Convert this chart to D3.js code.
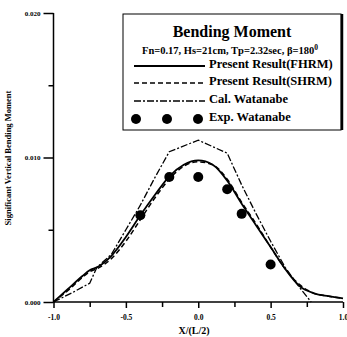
<!DOCTYPE html>
<html><head><meta charset="utf-8">
<script src="https://cdn.jsdelivr.net/npm/d3@7"></script>
<style>body{margin:0;background:#fff}svg{display:block}text{font-family:"Liberation Serif","Times New Roman",serif;font-weight:bold;fill:#000}</style>
</head><body>
<svg id="c" width="347" height="337"></svg>
<script>
const xTicksMajor = [-1.0, -0.5, 0.0, 0.5, 1.0];
const xTicksMinor = [-0.75, -0.25, 0.25, 0.75];
const yTicksMajor = [0.000, 0.010, 0.020];
const yTicksMinor = [0.005, 0.015];

const fhrmX = [-1.0,-0.9,-0.8,-0.75,-0.7,-0.6,-0.5,-0.4,-0.3,-0.2,-0.1,0.0,0.1,0.2,0.3,0.4,0.5,0.6,0.7,0.8,0.9,1.0];
const fhrmY = [0,0.0009,0.0018,0.0022,0.0024,0.0032,0.0045,0.0060,0.0074,0.0087,0.0095,0.0098,0.0095,0.0084,0.0068,0.0053,0.0038,0.0023,0.0011,0.0006,0.0004,0.00025];
const shrmX = [-1.0,-0.9,-0.8,-0.75,-0.7,-0.6,-0.5,-0.4,-0.3,-0.2,-0.1,0.0,0.1,0.2,0.3,0.4,0.5,0.6,0.7,0.8,0.9,1.0];
const shrmY = [0,0.0008,0.0017,0.0021,0.0023,0.0030,0.0042,0.0057,0.0072,0.0085,0.0094,0.0097,0.0095,0.0085,0.0069,0.0054,0.0038,0.0023,0.0012,0.0006,0.0004,0.00025];
const calX = [-1.0,-0.86,-0.75,-0.7,-0.6,-0.5,-0.4,-0.3,-0.2,0.0,0.2,0.3,0.4,0.5,0.6,0.7,0.78];
const calY = [0,0.0007,0.0013,0.0024,0.0033,0.0050,0.0067,0.0086,0.0104,0.0112,0.0103,0.0081,0.0061,0.0042,0.0024,0.0010,0.0];
const expX = [-0.4,-0.2,0.0,0.2,0.3,0.5];
const expY = [0.0060,0.00865,0.00865,0.0078,0.0061,0.0026];

const legendLabels = ["Present Result(FHRM)","Present Result(SHRM)","Cal. Watanabe","Exp. Watanabe"];

const svg = d3.select("#c");
const x = d3.scaleLinear().domain([-1,1]).range([53.5,343]);
const y = d3.scaleLinear().domain([0,0.02]).range([302,13]);

// axes
const fmtY = d => d3.format(".3f")(d);
const fmtX = d => d3.format(".1f")(d).replace("\u2212","-");
const gy = svg.append("g").attr("transform","translate(53.5,0)")
  .call(d3.axisLeft(y).tickValues(yTicksMajor).tickSize(10).tickPadding(3).tickFormat(fmtY));
svg.append("g").attr("transform","translate(53.5,0)")
  .call(d3.axisLeft(y).tickValues(yTicksMinor).tickSize(5).tickFormat(""))
  .select(".domain").remove();
const gx = svg.append("g").attr("transform","translate(0,302)")
  .call(d3.axisBottom(x).tickValues(xTicksMajor).tickSize(6).tickPadding(7).tickFormat(fmtX));
svg.append("g").attr("transform","translate(0,302)")
  .call(d3.axisBottom(x).tickValues(xTicksMinor).tickSize(5).tickFormat(""))
  .select(".domain").remove();
svg.selectAll(".domain").attr("stroke","#000").attr("stroke-width",1.5);
svg.selectAll(".tick line").attr("stroke","#000").attr("stroke-width",1.5);
gy.selectAll(".tick text").style("font-size","7px").style("font-family","Liberation Serif").style("font-weight","bold");
gx.selectAll(".tick text").style("font-size","7.5px").style("font-family","Liberation Serif").style("font-weight","bold");
gy.select(".domain").attr("d","M0,302V13");
gx.select(".domain").attr("d","M53.5,0H343");

// axis titles
svg.append("text").attr("x",194).attr("y",334).attr("text-anchor","middle").style("font-size","10px").text("X/(L/2)");
svg.append("text").attr("transform","translate(11,158) rotate(-90)").attr("text-anchor","middle").style("font-size","8.5px").text("Significant  Vertical Bending Moment");

// curves
const lineM = d3.line().x(d=>x(d[0])).y(d=>y(d[1])).curve(d3.curveMonotoneX);
const lineL = d3.line().x(d=>x(d[0])).y(d=>y(d[1]));
svg.append("path").attr("d",lineL(calX.map((v,i)=>[v,calY[i]]))).attr("fill","none").attr("stroke","#000").attr("stroke-width",1.3).attr("stroke-dasharray","7,2,2,2");
svg.append("path").attr("d",lineM(shrmX.map((v,i)=>[v,shrmY[i]]))).attr("fill","none").attr("stroke","#000").attr("stroke-width",1.5).attr("stroke-dasharray","5,3");
svg.append("path").attr("d",lineM(fhrmX.map((v,i)=>[v,fhrmY[i]]))).attr("fill","none").attr("stroke","#000").attr("stroke-width",1.8);
svg.selectAll("circle.exp").data(expX.map((v,i)=>[v,expY[i]])).enter().append("circle").attr("class","exp")
  .attr("cx",d=>x(d[0])).attr("cy",d=>y(d[1])).attr("r",5).attr("fill","#000");

// legend
const L = svg.append("g");
L.append("rect").attr("x",123).attr("y",14).attr("width",218).attr("height",116).attr("fill","#fff").attr("stroke","#000").attr("stroke-width",1);
L.append("line").attr("x1",342).attr("x2",342).attr("y1",14).attr("y2",130).attr("stroke","#000").attr("stroke-width",2.5);
L.append("text").attr("x",232).attr("y",37).attr("text-anchor","middle").style("font-size","16px").text("Bending Moment");
const st = L.append("text").attr("x",142).attr("y",54).style("font-size","10.5px");
st.append("tspan").text("Fn=0.17, Hs=21cm, Tp=2.32sec, \u03b2=180");
st.append("tspan").attr("dy",-4).style("font-size","7.5px").text("0");
const rows = [66,83,101,119];
L.append("line").attr("x1",134).attr("x2",205).attr("y1",rows[0]).attr("y2",rows[0]).attr("stroke","#000").attr("stroke-width",1.8);
L.append("line").attr("x1",134).attr("x2",205).attr("y1",rows[1]).attr("y2",rows[1]).attr("stroke","#000").attr("stroke-width",1.5).attr("stroke-dasharray","5,3");
L.append("line").attr("x1",134).attr("x2",205).attr("y1",rows[2]).attr("y2",rows[2]).attr("stroke","#000").attr("stroke-width",1.3).attr("stroke-dasharray","7,2,2,2");
[136,167,198].forEach(cx=>L.append("circle").attr("cx",cx).attr("cy",rows[3]).attr("r",5).attr("fill","#000"));
legendLabels.forEach((t,i)=>L.append("text").attr("x",209).attr("y",rows[i]+2).style("font-size","12.5px").text(t));
</script>
</body></html>
